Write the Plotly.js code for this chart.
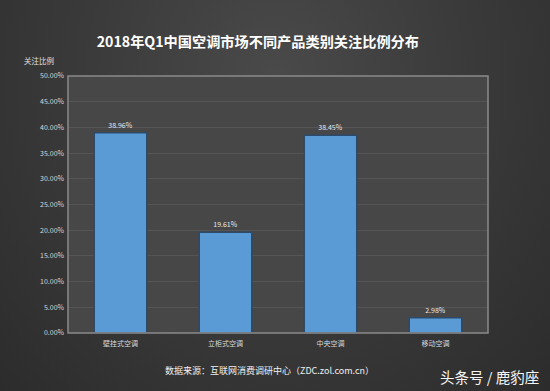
<!DOCTYPE html>
<html><head><meta charset="utf-8">
<script src="https://cdn.plot.ly/plotly-3.0.1.min.js"></script>
<style>
html,body{margin:0;padding:0;width:550px;height:391px;overflow:hidden;
background:radial-gradient(ellipse at 50% 20%, #4a4a4a 0%, #3a3a3a 50%, #2c2c2c 100%);}
#chart{width:550px;height:391px;}
</style></head><body>
<div id="chart"></div>
<script>
const categories = ['壁挂式空调','立柜式空调','中央空调','移动空调'];
const values = [38.96, 19.61, 38.45, 2.98];
const yTickVals = [0,5,10,15,20,25,30,35,40,45,50];
const yTickText = ['0.00%','5.00%','10.00%','15.00%','20.00%','25.00%','30.00%','35.00%','40.00%','45.00%','50.00%'];
const FONT = '"Noto Sans CJK SC", "Microsoft YaHei", sans-serif';

const trace = {
  type:'bar', x:categories, y:values,
  width:0.5,
  marker:{color:'#5b9bd5', line:{color:'#2c4a6a', width:1.5}},
  text: values.map(v=>v.toFixed(2)+'%'),
  textposition:'outside',
  textfont:{family:FONT, size:7, color:'#e8e8e8'},
  cliponaxis:false,
  hoverinfo:'none'
};

const layout = {
  width:550, height:391,
  margin:{l:68, r:62, t:76, b:58},
  paper_bgcolor:'rgba(0,0,0,0)',
  plot_bgcolor:'#474747',
  showlegend:false,
  bargap:0.5,
  title:{text:'<b>2018年Q1中国空调市场不同产品类别关注比例分布</b>', xref:'paper', x:0.452, xanchor:'center', y:0.893, yanchor:'middle',
    font:{family:FONT, size:14.2, color:'#ffffff'}},
  xaxis:{type:'category', showgrid:false, zeroline:false, showline:false,
    tickfont:{family:FONT, size:7, color:'#d8d8d8'}, ticks:'', ticklen:0,
    ticklabelstandoff:5, mirror:false},
  yaxis:{range:[0,50], tickvals:yTickVals, ticktext:yTickText,
    showgrid:true, gridcolor:'#555555', gridwidth:1, zeroline:false,
    tickfont:{family:FONT, size:7, color:'#d8d8d8'}, ticks:'', ticklen:0,
    ticklabelstandoff:3},
  shapes:[
    {type:'rect', xref:'paper', yref:'paper', x0:0, x1:1, y0:0, y1:1, line:{color:'#8a8a8a', width:1.5}, fillcolor:'rgba(0,0,0,0)'}
  ],
  annotations:[
    {text:'关注比例', xref:'paper', yref:'paper', x:-0.07, y:1.06, xanchor:'center', yanchor:'middle', showarrow:false,
      font:{family:FONT, size:7.5, color:'#e0e0e0'}},
    {text:'数据来源：互联网消费调研中心（ZDC.zol.com.cn）', xref:'paper', yref:'paper', x:0.48, y:-0.144, xanchor:'center', yanchor:'middle', showarrow:false,
      font:{family:FONT, size:9, color:'#f0f0f0'}},
    {text:'头条号 / 鹿豹座', xref:'paper', yref:'paper', x:1.126, y:-0.17, xanchor:'right', yanchor:'middle', showarrow:false,
      font:{family:FONT, size:14.5, color:'#f5f5f5'}}
  ]
};

Plotly.newPlot('chart', [trace], layout, {staticPlot:true, displayModeBar:false});
</script>
</body></html>
